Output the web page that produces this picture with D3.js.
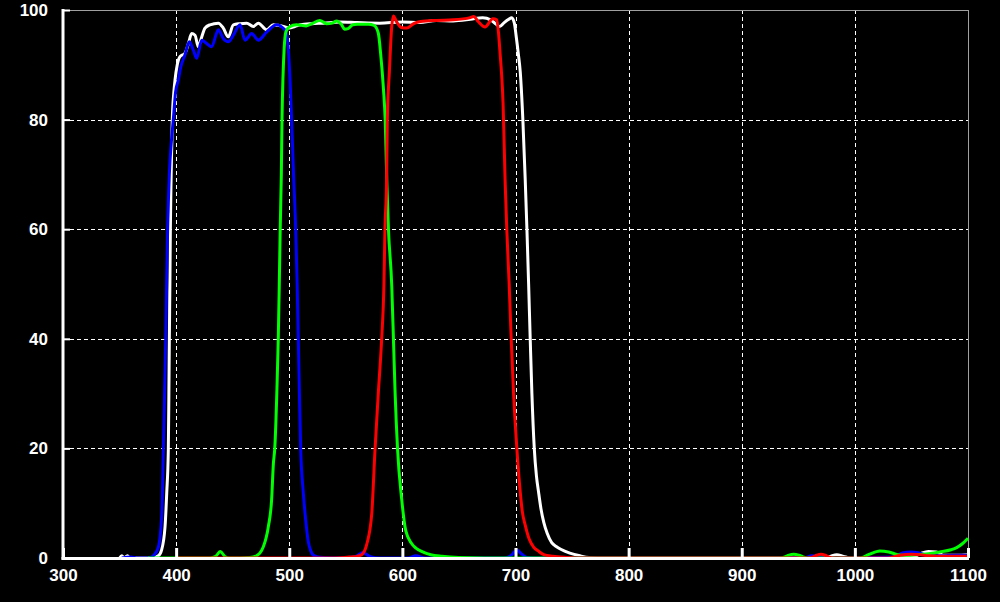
<!DOCTYPE html>
<html>
<head>
<meta charset="utf-8">
<script src="https://cdn.jsdelivr.net/npm/d3@7/dist/d3.min.js"></script>
<style>
  html, body { margin: 0; padding: 0; background: #000; }
  svg { display: block; }
</style>
</head>
<body>
<svg id="chart" width="1000" height="602"></svg>
<script>
// ---- data: [wavelength nm, transmission %] ----
const xTicks = [300, 400, 500, 600, 700, 800, 900, 1000, 1100];
const yTicks = [0, 20, 40, 60, 80, 100];

const whiteSeries = [
  [350,0],[352,0.4],[354,0],[357,0.4],[359,0],[370,0],[380,0.1],[384.3,0.4],[387.2,1.5],[390.2,5.7],
  [391.7,11.9],[393.1,19.7],[393.6,30],[394,40],[394.5,50],[394.9,60],[395.6,70],[396.6,80],[398,85],
  [399,87.2],[401,90],[403.4,91.5],[407.8,92.1],[411,94],[413.7,95.7],[416.7,95.4],[419.6,93.3],
  [422.5,95],[425.5,96.7],[429.9,97.3],[437.3,97.6],[441.7,96.7],[446.1,95.1],[450.6,97.3],
  [456,97.5],[462.4,97.6],[468.2,97.0],[472.7,97.6],[480.1,96.4],[485.9,97.3],[490,97.2],
  [494.8,97.0],[500,96.7],[505,97],[510,97.3],[520,97.5],[530,97.6],[545,97.8],[560,97.7],
  [580,97.6],[600,97.8],[615,97.7],[630,98.1],[645,98],[660,98.3],[671,98.6],[678,98.2],
  [683,97.4],[686,97],[690,97.7],[694,98.3],[696.7,98.6],[699,97.6],[700.6,95.2],[702.5,92],
  [704.2,88.7],[706.5,80],[708.6,69],[710.1,60],[711.6,50],[713,40],[714.5,30],[716.6,20],
  [718.5,15],[720.4,12],[722.5,9],[725,6.5],[728,4.5],[732,2.8],[736,2.1],[740,1.6],[748,0.9],
  [757,0.4],[765,0.1],[780,0],[900,0],[972,0],[978,0.3],[984,0.6],[990,0.3],[996,0],[1050,0.1],
  [1058,0.8],[1065,1.2],[1072,1.1],[1078,0.5],[1090,0.5],[1100,0.6]
];

const blueSeries = [
  [352,0],[360,0.2],[366,0],[375,0],[379.8,0.4],[384.3,2],[387.2,7.5],[388.7,19.7],[389.8,30],
  [390.8,40],[391.6,50],[392.5,60],[394,70],[395.8,76],[397.5,80],[399.5,85],[401.9,87.2],
  [404,89.5],[407.8,91.8],[411.7,94.2],[415.2,92.7],[418.2,91.2],[422.6,94.5],[427,93.9],
  [431.4,93.3],[437.3,96.4],[441.7,94.8],[446.1,94.2],[450.6,95.4],[456.5,97.3],[460.9,94.5],
  [466.8,95.7],[472.7,94.5],[480.1,96.0],[488.9,97.3],[494,96.8],[497.7,95.7],[500.7,87.2],
  [502.1,80],[503.8,70],[505.7,60],[507,50],[508,40],[509,30],[510.1,20],[512.4,12],[514.5,7],
  [516.8,3],[519,1.3],[521.3,0.5],[525,0.2],[540,0],[558,0.2],[565,1.0],[571,0.3],[580,0],
  [605,0],[612,0.4],[620,0],[690,0],[697,0.6],[701,1.5],[705,0.8],[710,0.1],[720,0],[955,0],
  [962,0.4],[968,0.3],[975,0],[1035,0.2],[1042,0.9],[1050,1.1],[1057,0.9],[1065,0.5],
  [1075,0.4],[1090,0.5],[1100,0.5]
];

const greenSeries = [
  [375,0],[400,0],[430,0],[435,0.3],[439,1.2],[443,0.3],[447,0],[465,0.1],[471,0.4],[477,2],
  [481.5,5.7],[484.4,10.6],[486,17.3],[487.2,20],[489,30],[490.3,40],[491.2,50],[492,60],
  [493,70],[493.6,80],[494.5,88],[495.5,93],[497,96],[500,96.9],[506.5,97.3],[515,97.1],
  [521,97.6],[527,98.1],[533,97.5],[538,97.6],[542,98],[546,97.4],[549,96.5],[552,96.6],
  [556,97.3],[560,97.4],[570,97.4],[575,97.2],[578.7,95.8],[580.8,92],[583.3,85.5],[584.8,80],
  [586.2,69],[587.7,60],[590.6,49.7],[592.1,40],[593.6,30],[595.7,20],[599.5,10.5],[603,5],
  [608,2.7],[612,1.8],[618,1.1],[625,0.6],[635,0.3],[650,0.1],[700,0],[935,0],[940,0.4],
  [946,0.7],[952,0.4],[958,0],[1005,0],[1012,0.6],[1022,1.3],[1030,1.1],[1038,0.6],[1045,0.5],
  [1055,0.6],[1065,0.8],[1075,1.1],[1085,1.5],[1090,1.9],[1095,2.6],[1100,3.6]
];

const redSeries = [
  [400,0],[540,0],[555,0.2],[560,0.3],[564,0.6],[568.5,2.5],[572.9,8],[575.8,19.7],[578.7,30],
  [581.7,40],[583.7,50],[584.6,60],[586.1,69],[586.7,80],[588.5,88.7],[590.6,97],[592,98.9],
  [595,97.8],[599,96.8],[604,96.7],[610,97.5],[616,97.9],[630,98.1],[645,98.2],[660,98.6],
  [663,98.8],[667,97.9],[673,96.9],[680,98.4],[683.4,98.2],[685,95.8],[686.4,92],[687.8,88],
  [689,83],[689.8,77],[690.8,69],[692.3,60],[694.4,50],[696.2,40],[698.3,30],[701.2,20],
  [704.2,12],[706,8.5],[708.6,6],[712,3.5],[716,2],[720,1.3],[725,0.6],[733,0.3],[745,0.1],
  [760,0],[960,0],[965,0.4],[970,0.7],[975,0.4],[980,0],[1030,0],[1040,0.5],[1050,0.7],
  [1058,0.6],[1065,0.4],[1080,0.3],[1100,0.3]
];

const seriesList = [
  { data: whiteSeries, color: "#ffffff" },
  { data: blueSeries,  color: "#0000ff" },
  { data: greenSeries, color: "#00ff00" },
  { data: redSeries,   color: "#ff0000" }
];

// ---- layout ----
const svg = d3.select("#chart");
const mLeft = 63, mRight = 968, mTop = 10, mBottom = 558;

const x = d3.scaleLinear().domain([300, 1100]).range([mLeft, mRight]);
const y = d3.scaleLinear().domain([0, 100]).range([mBottom, mTop]);

svg.append("rect").attr("width", 1000).attr("height", 602).attr("fill", "#000");

// grid
const grid = svg.append("g");
grid.selectAll("line.vg").data(xTicks.filter(d => d > 300 && d < 1100)).join("line")
  .attr("x1", d => Math.round(x(d)) + 0.5).attr("x2", d => Math.round(x(d)) + 0.5)
  .attr("y1", mTop).attr("y2", mBottom)
  .attr("stroke", "#fff").attr("stroke-width", 1).attr("stroke-dasharray", "4,3");
grid.selectAll("line.hg").data(yTicks.filter(d => d > 0 && d < 100)).join("line")
  .attr("x1", mLeft).attr("x2", mRight)
  .attr("y1", d => Math.round(y(d)) + 0.5).attr("y2", d => Math.round(y(d)) + 0.5)
  .attr("stroke", "#fff").attr("stroke-width", 1).attr("stroke-dasharray", "4,3");

// frame top/right (gray)
svg.append("line").attr("x1", mLeft).attr("x2", mRight).attr("y1", mTop + 0.5).attr("y2", mTop + 0.5)
  .attr("stroke", "#a0a0a0").attr("stroke-width", 1);
svg.append("line").attr("x1", mRight + 0.5).attr("x2", mRight + 0.5).attr("y1", mTop).attr("y2", mBottom)
  .attr("stroke", "#a0a0a0").attr("stroke-width", 1);

// curves
const line = d3.line().x(d => x(d[0])).y(d => y(d[1])).curve(d3.curveMonotoneX);
svg.append("g").selectAll("path").data(seriesList).join("path")
  .attr("d", d => line(d.data))
  .attr("fill", "none")
  .attr("stroke", d => d.color)
  .attr("stroke-width", 3)
  .attr("stroke-linejoin", "round");

// axes
const fmt = d3.format("d");
const xAxis = d3.axisBottom(x).tickValues(xTicks).tickFormat(fmt).tickSizeInner(-10).tickSizeOuter(0).tickPadding(11);
const yAxis = d3.axisLeft(y).tickValues(yTicks).tickFormat(fmt).tickSizeInner(-7).tickSizeOuter(0).tickPadding(15);

const gx = svg.append("g").attr("transform", `translate(0,${mBottom})`).call(xAxis);
const gy = svg.append("g").attr("transform", `translate(${mLeft},0)`).call(yAxis);

[gx, gy].forEach(g => {
  g.select(".domain").remove();
  g.selectAll(".tick text")
    .attr("fill", "#fff")
    .style("font-family", "'Liberation Sans', Arial, sans-serif")
    .style("font-weight", "bold")
    .style("font-size", "17px");
});
gx.selectAll(".tick line").attr("stroke", "#fff").attr("stroke-width", 3);
gy.selectAll(".tick line").attr("stroke", "#fff").attr("stroke-width", 2);

// white axis lines (left & bottom)
svg.append("line").attr("x1", mLeft).attr("x2", mLeft).attr("y1", mTop - 1).attr("y2", mBottom + 1.5)
  .attr("stroke", "#fff").attr("stroke-width", 3);
svg.append("line").attr("x1", mLeft - 1.5).attr("x2", mRight + 1).attr("y1", mBottom + 0.5).attr("y2", mBottom + 0.5)
  .attr("stroke", "#fff").attr("stroke-width", 3);
</script>
</body>
</html>
